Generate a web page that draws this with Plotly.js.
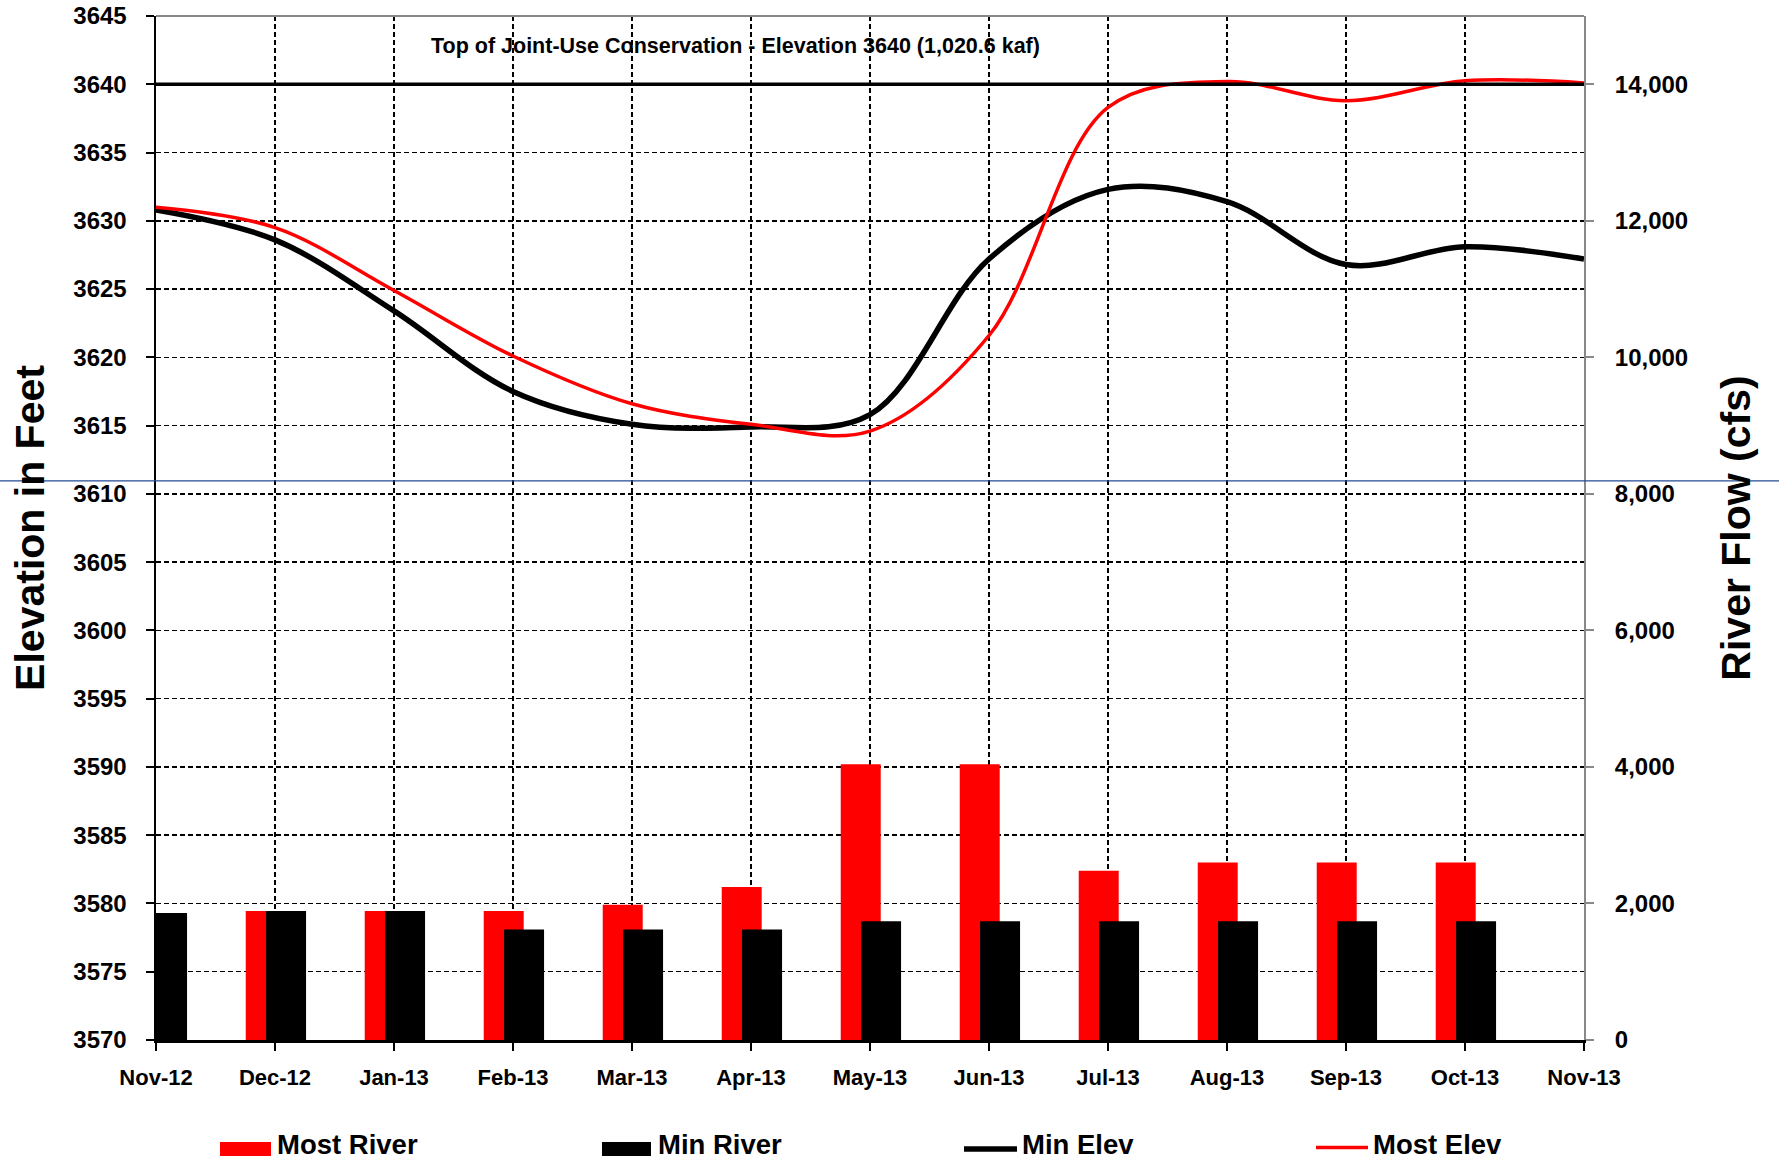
<!DOCTYPE html>
<html>
<head>
<meta charset="utf-8">
<script src="https://cdn.plot.ly/plotly-3.0.1.min.js"></script>
<style>
  html, body { margin: 0; padding: 0; background: #ffffff; }
  #chart { width: 1779px; height: 1162px; }
</style>
</head>
<body>
<div id="chart"></div>
<script>
// Monthly operating outlook: reservoir elevation (ft) and river release (cfs)
const months = ['Nov-12', 'Dec-12', 'Jan-13', 'Feb-13', 'Mar-13', 'Apr-13', 'May-13',
                'Jun-13', 'Jul-13', 'Aug-13', 'Sep-13', 'Oct-13', 'Nov-13'];
const flowMonths = ['Nov-12', 'Dec-12', 'Jan-13', 'Feb-13', 'Mar-13', 'Apr-13', 'May-13',
                    'Jun-13', 'Jul-13', 'Aug-13', 'Sep-13', 'Oct-13'];

// River flow, cfs (right axis)
const mostRiver = [null, 1890, 1890, 1890, 1980, 2240, 4040, 4040, 2480, 2600, 2600, 2600];
const minRiver  = [1860, 1890, 1890, 1620, 1620, 1620, 1740, 1740, 1740, 1740, 1740, 1740];

// End-of-month elevation, feet (left axis)
const minElev  = [3630.8, 3628.6, 3623.4, 3617.5, 3615.1, 3614.9, 3615.8,
                  3627.2, 3632.3, 3631.4, 3626.8, 3628.1, 3627.2];
const mostElev = [3631.0, 3629.5, 3624.9, 3620.1, 3616.6, 3615.1, 3614.6,
                  3621.6, 3638.3, 3640.2, 3638.8, 3640.25, 3640.1];

// Top of joint-use conservation pool
const topElev = 3640;
const topLabel = 'Top of Joint-Use Conservation - Elevation 3640 (1,020.6 kaf)';

// Axis ticks
const elevTicks = [3570, 3575, 3580, 3585, 3590, 3595, 3600, 3605, 3610,
                   3615, 3620, 3625, 3630, 3635, 3640, 3645];
const flowTicks = [0, 2000, 4000, 6000, 8000, 10000, 12000, 14000];

const names = { mostRiver: 'Most River', minRiver: 'Min River', minElev: 'Min Elev', mostElev: 'Most Elev' };

const RED = '#ff0000';
const BLACK = '#000000';
const FONT = 'Liberation Sans, Arial, Helvetica, sans-serif';

// plot area in page pixels, used to place the hand-built legend
const W = 1779, H = 1162;
const M = { l: 156, r: 195, t: 16, b: 122 };
const PW = W - M.l - M.r, PH = H - M.t - M.b;
const px = x => (x - M.l) / PW;
const py = y => (H - M.b - y) / PH;

const traces = [
  {
    type: 'bar', name: names.mostRiver, x: flowMonths, y: mostRiver, yaxis: 'y2',
    marker: { color: RED, line: { width: 0 } },
    width: 0.336, offset: -0.246, hoverinfo: 'x+y'
  },
  {
    type: 'bar', name: names.minRiver, x: flowMonths, y: minRiver, yaxis: 'y2',
    marker: { color: BLACK, line: { width: 0 } },
    width: 0.336, offset: -0.075, hoverinfo: 'x+y'
  },
  {
    type: 'scatter', mode: 'lines', name: names.minElev, x: months, y: minElev,
    line: { color: BLACK, width: 5.5, shape: 'spline', smoothing: 1 }
  },
  {
    type: 'scatter', mode: 'lines', name: names.mostElev, x: months, y: mostElev,
    line: { color: RED, width: 3.5, shape: 'spline', smoothing: 1 }
  },
  {
    type: 'scatter', mode: 'lines', name: 'Top of Conservation',
    x: [months[0], months[months.length - 1]], y: [topElev, topElev],
    line: { color: BLACK, width: 3.5 }, hoverinfo: 'y'
  }
];

const tickFont = { family: FONT, size: 24, color: BLACK, weight: 'bold' };
const dash = '5px,3px';

// legend built from boxes, strokes and labels below the chart
const legendShapes = [
  { type: 'rect', xref: 'paper', yref: 'paper', x0: px(220), x1: px(271), y0: py(1156), y1: py(1142),
    fillcolor: RED, line: { width: 0 } },
  { type: 'rect', xref: 'paper', yref: 'paper', x0: px(602), x1: px(651), y0: py(1156), y1: py(1142),
    fillcolor: BLACK, line: { width: 0 } },
  { type: 'line', xref: 'paper', yref: 'paper', x0: px(964), x1: px(1017), y0: py(1149), y1: py(1149),
    line: { color: BLACK, width: 5.5 } },
  { type: 'line', xref: 'paper', yref: 'paper', x0: px(1316), x1: px(1368), y0: py(1147.5), y1: py(1147.5),
    line: { color: RED, width: 3.5 } }
];
const legendFont = { family: FONT, size: 27.5, color: BLACK, weight: 'bold' };
const legendLabels = [
  { text: names.mostRiver, x: 276 },
  { text: names.minRiver, x: 657 },
  { text: names.minElev, x: 1021 },
  { text: names.mostElev, x: 1372 }
].map(d => ({
  text: d.text, xref: 'paper', yref: 'paper', x: px(d.x), y: py(1144),
  xanchor: 'left', yanchor: 'middle', showarrow: false, borderpad: 0, font: legendFont
}));

const layout = {
  width: W, height: H,
  margin: M,
  paper_bgcolor: '#ffffff', plot_bgcolor: '#ffffff',
  font: { family: FONT, color: BLACK },
  showlegend: false,
  barmode: 'overlay',
  xaxis: {
    type: 'category', categoryorder: 'array', categoryarray: months,
    range: [0, months.length - 1], fixedrange: true,
    showgrid: true, gridcolor: BLACK, gridwidth: 1.5, griddash: dash,
    showline: true, linecolor: BLACK, linewidth: 3,
    ticks: 'outside', ticklen: 8, tickwidth: 2, tickcolor: BLACK,
    tickfont: { family: FONT, size: 22, color: BLACK, weight: 'bold' },
    ticklabelstandoff: 8, zeroline: false
  },
  yaxis: {
    range: [3570, 3645], tickvals: elevTicks, fixedrange: true,
    showgrid: true, gridcolor: BLACK, gridwidth: 1.5, griddash: dash,
    showline: true, linecolor: BLACK, linewidth: 2.5,
    ticks: 'outside', ticklen: 8, tickwidth: 2, tickcolor: BLACK,
    tickfont: tickFont, ticklabelstandoff: 14, zeroline: false,
    title: { text: 'Elevation in Feet', font: { family: FONT, size: 41, color: BLACK, weight: 'bold' }, standoff: 16 }
  },
  yaxis2: {
    overlaying: 'y', side: 'right', range: [0, 15000], tickvals: flowTicks,
    tickformat: ',d', fixedrange: true,
    showgrid: false, zeroline: false,
    showline: true, linecolor: '#888888', linewidth: 2,
    ticks: 'outside', ticklen: 8, tickwidth: 2, tickcolor: '#888888',
    tickfont: tickFont, ticklabelstandoff: 16,
    title: { text: 'River Flow (cfs)', font: { family: FONT, size: 41, color: BLACK, weight: 'bold' }, standoff: 34 }
  },
  shapes: [
    // top frame edge
    { type: 'line', xref: 'paper', yref: 'paper', x0: 0, x1: 1, y0: 1, y1: 1,
      line: { color: '#888888', width: 2 } },
    // thin guide rule across the page
    { type: 'line', xref: 'paper', yref: 'paper', layer: 'above',
      x0: -M.l / PW, x1: 1 + M.r / PW, y0: py(480.8), y1: py(480.8),
      line: { color: '#244a96', width: 1.2 } }
  ].concat(legendShapes),
  annotations: [
    { text: topLabel, xref: 'paper', yref: 'paper', x: px(735), y: py(46),
      xanchor: 'center', yanchor: 'middle', showarrow: false,
      font: { family: FONT, size: 21.5, color: BLACK, weight: 'bold' } }
  ].concat(legendLabels)
};

Plotly.newPlot('chart', traces, layout, { displayModeBar: false, staticPlot: true });
</script>
</body>
</html>
